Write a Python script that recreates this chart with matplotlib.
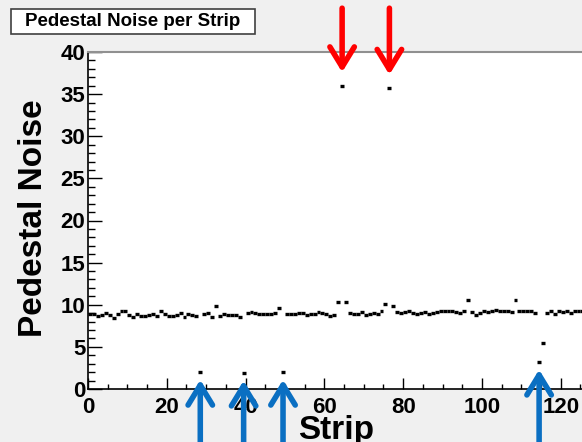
import numpy as np
import matplotlib
matplotlib.use("Agg")
from matplotlib import pyplot as plt
from matplotlib.patches import Rectangle
from matplotlib.ticker import MultipleLocator

plt.rcParams['font.family'] = ['Liberation Sans', 'DejaVu Sans']
plt.rcParams['font.weight'] = 'bold'

# Pedestal noise per strip (128 strips)
noise = [
    8.9, 8.9, 8.7, 8.8, 9.0, 8.8, 8.4, 8.9, 9.3, 9.2,
    8.8, 8.5, 8.9, 8.7, 8.7, 8.8, 8.9, 8.7, 9.2, 8.9,
    8.7, 8.7, 8.8, 9.0, 8.6, 8.9, 8.8, 8.7, 2.0, 8.9,
    9.0, 8.5, 9.8, 8.7, 8.9, 8.8, 8.8, 8.8, 8.5, 1.9,
    9.0, 9.1, 9.0, 8.9, 8.9, 8.9, 8.9, 9.0, 9.6, 2.0,
    8.9, 8.9, 8.9, 9.0, 9.0, 8.8, 8.9, 8.9, 9.1, 9.0,
    8.9, 8.7, 8.8, 10.3, 36.0, 10.35, 9.0, 8.9, 8.9, 9.1,
    8.8, 8.9, 9.0, 8.9, 9.2, 10.1, 35.7, 9.9, 9.1, 9.0,
    9.1, 9.2, 9.0, 8.9, 9.0, 9.1, 8.9, 9.0, 9.1, 9.2,
    9.3, 9.2, 9.3, 9.1, 9.0, 9.3, 10.6, 9.1, 8.8, 9.0,
    9.2, 9.1, 9.3, 9.4, 9.2, 9.2, 9.3, 9.1, 10.6, 9.3,
    9.2, 9.3, 9.3, 9.0, 3.2, 5.5, 9.0, 9.2, 8.9, 9.3,
    9.1, 9.3, 9.0, 9.2, 9.2, 9.3, 9.1, 9.2,
]
noisy_strips = [64, 76]          # red arrows
dead_strips = [28, 39, 49, 114]  # blue arrows

noise = np.array(noise)
edges = np.arange(len(noise) + 1)

fig = plt.figure(figsize=(5.82, 4.42), dpi=100)
fig.patch.set_facecolor('#f0f0f0')

W, H = 582.0, 442.0
ax = fig.add_axes([88 / W, 1 - 389 / H, 504.3 / W, 337 / H])
ax.set_facecolor('white')

ax.hlines(noise, edges[:-1], edges[1:], colors='black', lw=2.4)

ax.set_xlim(0, 128)
ax.set_ylim(0, 40)
ax.xaxis.set_major_locator(MultipleLocator(20))
ax.xaxis.set_minor_locator(MultipleLocator(5))
ax.yaxis.set_major_locator(MultipleLocator(5))
ax.yaxis.set_minor_locator(MultipleLocator(1))
ax.tick_params(axis='x', which='major', direction='in', length=7.7, width=1, pad=6, labelsize=16)
ax.tick_params(axis='x', which='minor', direction='in', length=3.6, width=1)
ax.tick_params(axis='y', which='major', direction='in', length=10, width=1, pad=2, labelsize=16)
ax.tick_params(axis='y', which='minor', direction='in', length=5, width=1)
for lab in ax.get_xticklabels() + ax.get_yticklabels():
    lab.set_fontweight('bold')

ax.spines['right'].set_visible(False)
ax.spines['top'].set_color('#909090')
ax.spines['top'].set_linewidth(1.5)
ax.spines['left'].set_linewidth(1.2)
ax.spines['bottom'].set_linewidth(1.2)

arrow_style = '->, head_length=0.9, head_width=0.55'
for s in noisy_strips:
    ax.annotate('', xy=(s + 0.5, noise[s] + 1.6), xytext=(s + 0.5, 45.2),
                arrowprops=dict(arrowstyle=arrow_style, color='#ff0000', lw=4,
                                mutation_scale=16, shrinkA=0, shrinkB=0),
                annotation_clip=False)
for s in dead_strips:
    ax.annotate('', xy=(s + 0.5, noise[s] - 0.9), xytext=(s + 0.5, -7),
                arrowprops=dict(arrowstyle=arrow_style, color='#0a6fc2', lw=4,
                                mutation_scale=16, shrinkA=0, shrinkB=0),
                annotation_clip=False)

fig.text(34 / W, 1 - 218 / H, 'Pedestal Noise', rotation=90, ha='center', va='center',
         fontsize=24, fontweight='bold')
fig.text(336 / W, 3 / H, 'Strip', ha='center', va='baseline', fontsize=24, fontweight='bold')

fig.patches.append(Rectangle((11 / W, 1 - 34 / H), 244 / W, 25 / H, transform=fig.transFigure,
                             facecolor='white', edgecolor='#404040', lw=1.2))
fig.text(133 / W, 1 - 21.5 / H, 'Pedestal Noise per Strip', ha='center', va='center',
         fontsize=13.5, fontweight='bold')

fig.savefig('out.png', dpi=100, facecolor=fig.get_facecolor())
